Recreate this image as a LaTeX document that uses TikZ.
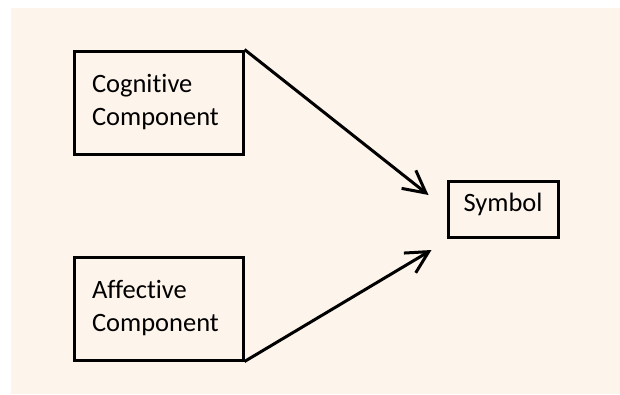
\documentclass[tikz,border=0pt]{standalone}
\usepackage{fontspec}
\setmainfont{Carlito}[Ligatures={NoCommon,NoRare}]
\usetikzlibrary{positioning, arrows.meta}
\definecolor{paper}{RGB}{253,244,236}

\begin{document}
\begin{tikzpicture}[
    x=1pt, y=-1pt,
    comp/.style={rectangle, draw=black, line width=3pt, minimum width=169pt, minimum height=103pt, text width=133pt, inner xsep=18pt, align=left, font=\fontsize{26.5}{33}\selectfont},
    sym/.style={rectangle, draw=black, line width=3pt, minimum width=110pt, minimum height=56pt, text centered, text depth=13pt, font=\fontsize{26.5}{33}\selectfont},
    arrow/.style={-{Straight Barb[length=22pt, width=23pt]}, line width=3pt}
]
\useasboundingbox (0,0) rectangle (620,394);
\fill[paper] (11,8) rectangle (620,394);
\node (cog) [comp] at (158.5,102.5) {Cognitive\\Component};
\node (aff) [comp, below=100pt of cog] {Affective\\Component};
\node (symbol) [sym] at (503,209) {Symbol};
\coordinate [above left=14pt and 18pt of symbol.west] (inA);
\coordinate [below left=41pt and 15pt of symbol.west] (inB);
\draw [arrow] (cog.north east) -- (inA);
\draw [arrow] (aff.south east) -- (inB);
\end{tikzpicture}
\end{document}
